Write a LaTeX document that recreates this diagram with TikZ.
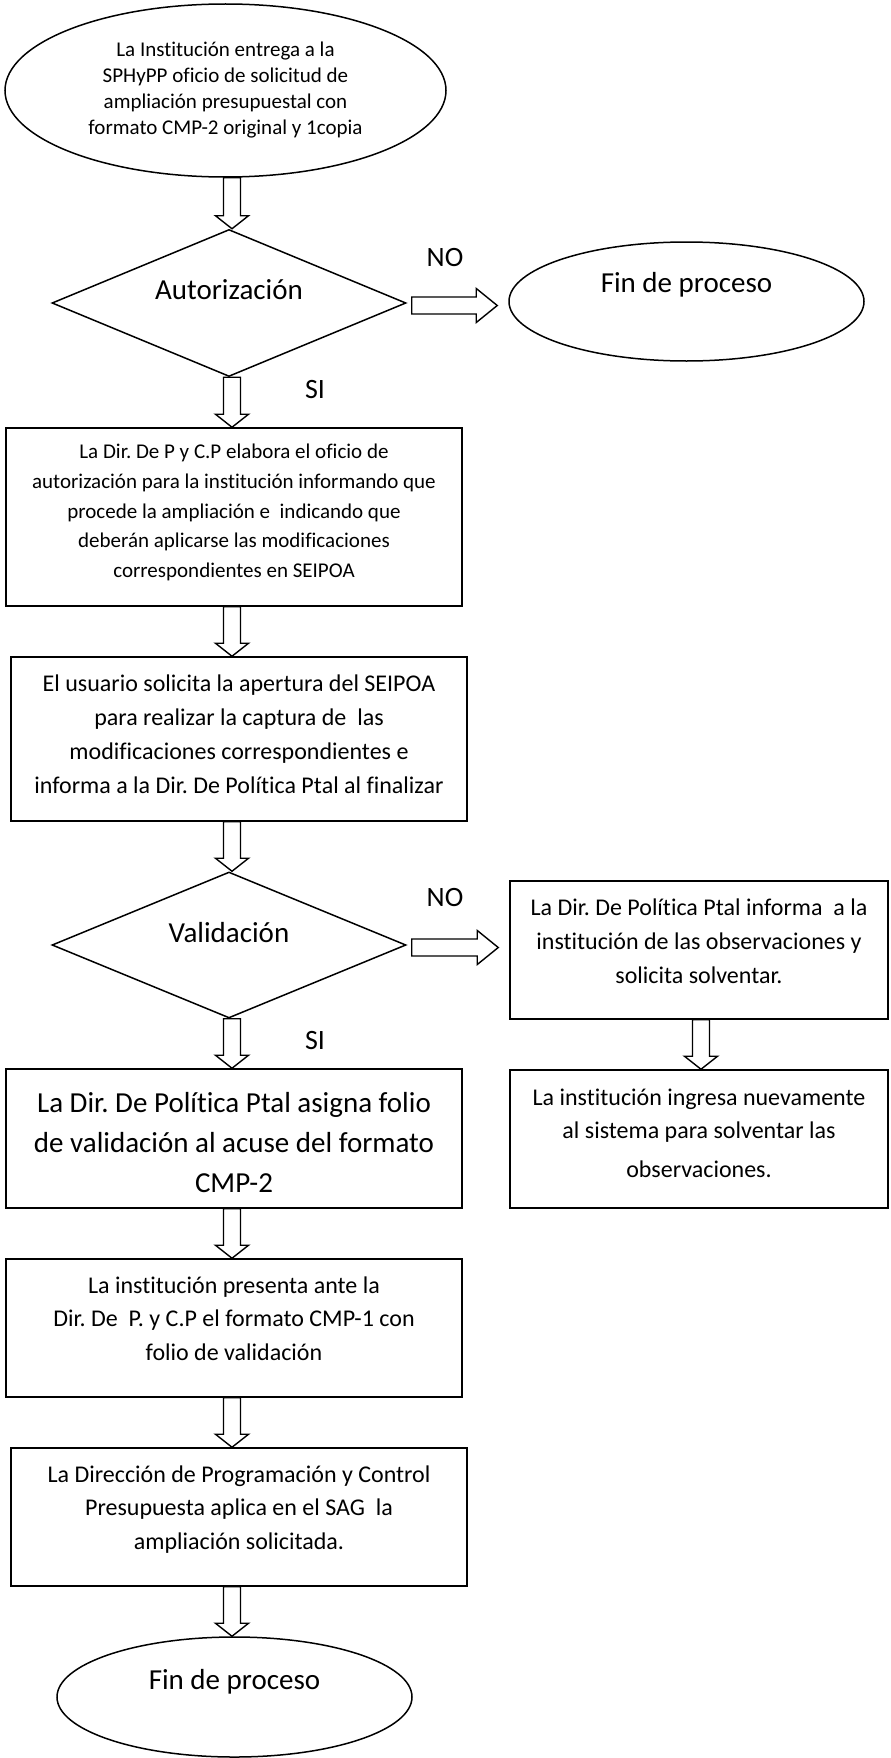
\documentclass[tikz,border=0pt]{standalone}
\usepackage{fontspec}
\setmainfont{Carlito}[RawFeature={-liga,-clig,-dlig}]
\frenchspacing
\usetikzlibrary{shapes.geometric,calc}
\tikzset{
  shp/.style={draw, line width=1.5pt, inner sep=0pt},
  boxnode/.style={shp, rectangle},
  ellnode/.style={shp, ellipse},
  dianode/.style={shp, diamond},
  blk/.style={draw, line width=1.4pt, line join=miter},
  ta/.style={align=center, font=\fontsize{21}{26}\selectfont},
  tb/.style={align=center, font=\fontsize{21}{29.8}\selectfont},
  tc/.style={align=center, font=\fontsize{24}{34}\selectfont},
  td/.style={align=center, font=\fontsize{24}{33.5}\selectfont},
  tbig/.style={align=center, font=\fontsize{29}{40}\selectfont},
  lbl/.style={font=\fontsize{28}{32}\selectfont, inner sep=0pt},
}
\newcommand\blockdown[3]{%
  \draw[blk] let \p1=(#1), \p2=(#2), \p3=(#3) in
    (\x3-8.5pt,\y1) -- (\x3-8.5pt,\y2+13pt) -- (\x3-16.5pt,\y2+13pt) -- (\x3,\y2)
    -- (\x3+16.5pt,\y2+13pt) -- (\x3+8.5pt,\y2+13pt) -- (\x3+8.5pt,\y1) -- cycle;}
\newcommand\blockright[2]{%
  \draw[blk] let \p1=(#1), \p2=(#2) in
    (\x1+5pt,\y1+6pt) -- (\x2-32pt,\y1+6pt) -- (\x2-32pt,\y1+14.5pt) -- (\x2-11pt,\y1-2.5pt)
    -- (\x2-32pt,\y1-19.5pt) -- (\x2-32pt,\y1-11pt) -- (\x1+5pt,\y1-11pt) -- cycle;}
\begin{document}
\begin{tikzpicture}[x=1pt,y=-1pt]
\useasboundingbox (0,0) rectangle (891,1758);
\coordinate (colL) at (232,0);
\coordinate (colR) at (701,0);

\node[ellnode, ta, minimum width=441pt, minimum height=173pt] (start) at (225.5,90.5)
  {La Institución entrega a la\\SPHyPP oficio de solicitud de\\ampliación presupuestal con\\formato CMP-2 original y 1copia};

\node[dianode, minimum width=354pt, minimum height=147pt,
  label={[tbig, yshift=13pt]center:Autorización}] (d1) at (229,303) {};

\node[ellnode, minimum width=355pt, minimum height=119pt,
  label={[tbig, yshift=16.5pt]center:Fin de proceso}] (fin1) at (686.5,301.5) {};

\node[boxnode, minimum width=456pt, minimum height=178pt,
  label={[tb, yshift=4.5pt]center:{La Dir. De P y C.P elabora el oficio de\\autorización para la institución informando que\\procede la ampliación e~ indicando que\\deberán aplicarse las modificaciones\\correspondientes en SEIPOA}}] (b1) at (234,517) {};

\node[boxnode, minimum width=456pt, minimum height=164pt,
  label={[tc, yshift=5pt]center:{El usuario solicita la apertura del SEIPOA\\para realizar la captura de~ las\\modificaciones correspondientes e\\informa a la Dir. De Política Ptal al finalizar}}] (b2) at (239,739) {};

\node[dianode, minimum width=354pt, minimum height=146pt,
  label={[tbig, yshift=12pt]center:Validación}] (d2) at (229,945) {};

\node[boxnode, minimum width=378pt, minimum height=138pt,
  label={[tc, yshift=8.5pt]center:{La Dir. De Política Ptal informa~ a la\\institución de las observaciones y\\solicita solventar.}}] (r1) at (699,950) {};

\node[boxnode, minimum width=378pt, minimum height=138pt,
  label={[td, yshift=6pt]center:{La institución ingresa nuevamente\\al sistema para solventar las\\[5pt]observaciones.}}] (r2) at (699,1139) {};

\node[boxnode, minimum width=456pt, minimum height=139pt,
  label={[tbig, yshift=-4pt]center:{La Dir. De Política Ptal asigna folio\\de validación al acuse del formato\\CMP-2}}] (b3) at (234,1138.5) {};

\node[boxnode, minimum width=456pt, minimum height=138pt,
  label={[td, yshift=9.5pt]center:{La institución presenta ante la\\Dir. De~ P. y C.P el formato CMP-1 con\\folio de validación}}] (b4) at (234,1328) {};

\node[boxnode, minimum width=456pt, minimum height=138pt,
  label={[td, yshift=7.5pt]center:{La Dirección de Programación y Control\\Presupuesta aplica en el SAG~ la\\ampliación solicitada.}}] (b5) at (239,1517) {};

\node[ellnode, minimum width=355pt, minimum height=120pt,
  label={[tbig, yshift=15pt]center:Fin de proceso}] (fin2) at (234.5,1697) {};

\node[lbl] (no1) at (445,258) {NO};
\node[lbl] (si1) at (315,390) {SI};
\node[lbl] (no2) at (445,898) {NO};
\node[lbl] (si2) at (315,1040) {SI};

\blockdown{start.south}{d1.north}{colL}
\blockdown{d1.south}{b1.north}{colL}
\blockdown{b1.south}{b2.north}{colL}
\blockdown{b2.south}{d2.north}{colL}
\blockdown{d2.south}{b3.north}{colL}
\blockdown{b3.south}{b4.north}{colL}
\blockdown{b4.south}{b5.north}{colL}
\blockdown{b5.south}{fin2.north}{colL}
\blockdown{r1.south}{r2.north}{colR}
\blockright{d1.east}{fin1.west}
\blockright{d2.east}{r1.west}
\end{tikzpicture}
\end{document}
